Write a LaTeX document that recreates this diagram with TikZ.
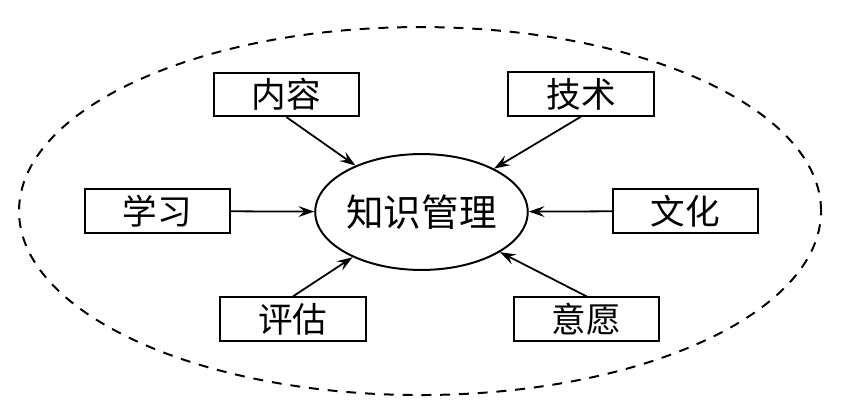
\documentclass[tikz,border=0pt]{standalone}
\usepackage{fontspec}
\newfontfamily\cjk{Noto Sans CJK SC}
\usetikzlibrary{shapes.geometric,arrows.meta}

\begin{document}
\begin{tikzpicture}[
        factor/.style={rectangle,draw,line width=1pt,minimum width=2.58cm,minimum height=0.77cm,inner sep=0pt,font=\cjk\fontsize{17.5}{20}\selectfont},
        core/.style={ellipse,draw,line width=1pt,minimum width=3.47cm,minimum height=2.06cm,inner sep=0pt,font=\cjk\fontsize{19}{22}\selectfont},
        pfeil/.style={line width=0.9pt,-{Stealth[length=8pt,width=5.5pt,inset=3pt]}}
    ]
        \useasboundingbox (0,0) rectangle (15,7.394);
        \draw[line width=1pt,dash pattern=on 5pt off 4.5pt] (7.465,3.643) ellipse [x radius=7.127,y radius=3.27];
        \node[core] at (7.491,3.626) (km) {知识管理};
        \node[factor] at (5.092,5.714) (neirong) {内容};
        \node[factor] at (10.326,5.723) (jishu) {技术};
        \node[factor] at (2.799,3.643) (xuexi) {学习};
        \node[factor] at (12.183,3.643) (wenhua) {文化};
        \node[factor] at (5.207,1.724) (pinggu) {评估};
        \node[factor] at (10.424,1.724) (yiyuan) {意愿};
        \draw[pfeil] (neirong.south) -- (km);
        \draw[pfeil] (jishu.south) -- (km);
        \draw[pfeil] (xuexi) -- (km);
        \draw[pfeil] (wenhua) -- (km);
        \draw[pfeil] (pinggu.north) -- (km);
        \draw[pfeil] (yiyuan.north) -- (km);
    \end{tikzpicture}
\end{document}
